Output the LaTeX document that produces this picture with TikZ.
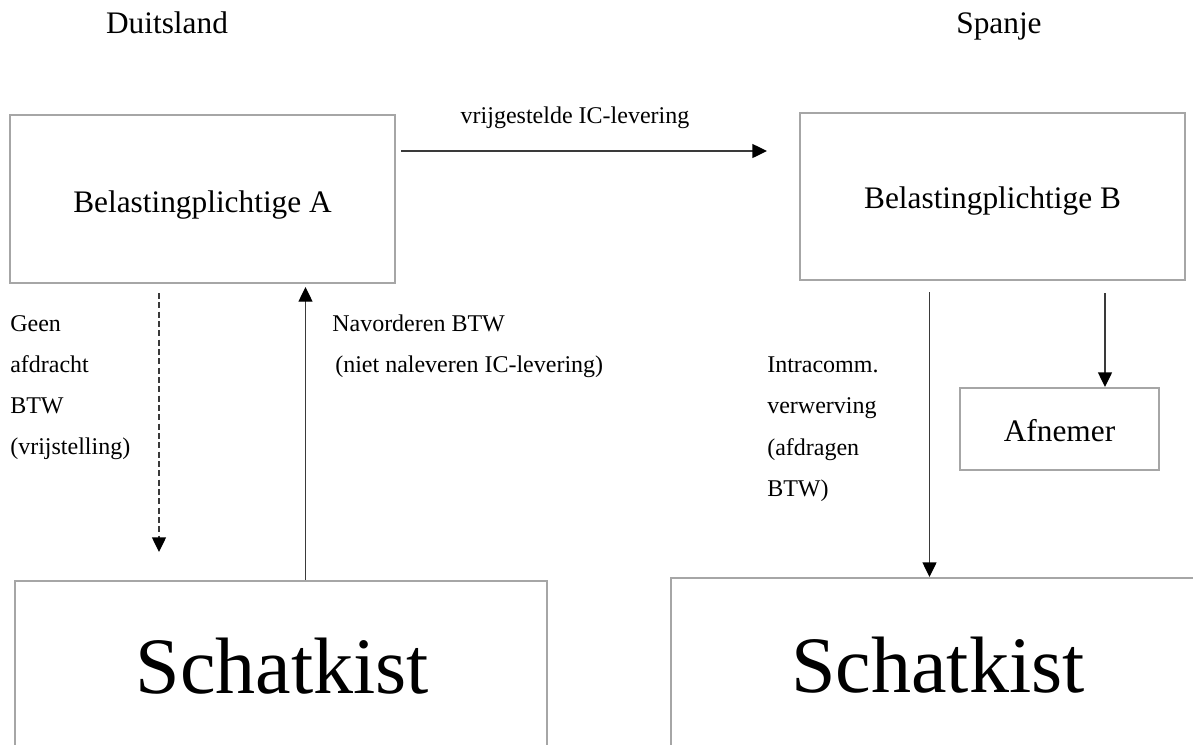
\documentclass[tikz,border=0pt]{standalone}
\usepackage{fontspec}
\setmainfont{Liberation Serif}
\usetikzlibrary{arrows.meta,calc}
\definecolor{boxgray}{HTML}{A6A6A6}
\definecolor{linegray}{HTML}{3A3A3A}
\begin{document}
\begin{tikzpicture}[x=0.75pt,y=-0.75pt,
  box/.style={draw=boxgray, line width=1.5pt, rectangle, inner sep=0pt},
  flow/.style={draw=linegray, line width=1pt,
    -{Triangle[length=11pt,width=10.5pt,color=black]}},
  dashedflow/.style={flow, dash pattern=on 4.5pt off 2.5pt},
  small/.style={font=\fontsize{18}{21}\selectfont, inner sep=0pt},
  medium/.style={font=\fontsize{23.5}{28}\selectfont, inner sep=0pt},
  big/.style={font=\fontsize{60}{72}\selectfont, inner sep=0pt}]
\useasboundingbox (0,0) rectangle (1193,744);
\clip (0,0) rectangle (1193,744);

% country headings
\node[medium, anchor=base] (de) at (167,33) {Duitsland};
\node[medium, anchor=base] (es) at (999,33) {Spanje};

% boxes
\node[box, minimum width=288.75pt, minimum height=126pt] (A) at (202.5,199) {};
\node[box, minimum width=288.75pt, minimum height=125.25pt] (B) at (992.5,196.5) {};
\node[box, minimum width=149.25pt, minimum height=61.5pt] (afn) at (1059.5,429) {};
\node[box, minimum width=399pt, minimum height=164.25pt] (SL) at (281,690.5) {};
\node[box, minimum width=400.5pt, minimum height=166.5pt] (SR) at (938,689) {};

% box texts
\node[medium, anchor=base] (Atext) at ($(A.center)+(0,13)$) {Belastingplichtige A};
\node[medium, anchor=base] (Btext) at ($(B.center)+(0,11.5)$) {Belastingplichtige B};
\node[medium, anchor=base] (afntext) at ($(afn.center)+(0,12)$) {Afnemer};
\node[big, anchor=base] (SLtext) at ($(SL.center)+(1.5,2.5)$) {Schatkist};
\node[big, anchor=base] (SRtext) at ($(SR.center)+(0,3)$) {Schatkist};

% connectors
\draw[flow] ($(A.north east)+(5,37)$) -- ($(B.north west)+(-32,39)$);
\draw[dashedflow] ($(A.south west)+(150,9)$) -- ($(SL.north west)+(145,-28)$);
\draw[flow] ($(SL.north)+(24.5,0)$) -- ($(A.south)+(103,3)$);
\draw[flow] ($(B.south)+(-63,11)$) -- ($(SR.north)+(-8.5,0)$);
\draw[flow] ($(B.south)+(112.5,12)$) -- ($(afn.north)+(45.5,0)$);

% connector labels
\node[small, anchor=base] (ic) at (575,123) {vrijgestelde IC-levering};

\node[small, anchor=base west] (g1) at (10,331) {Geen};
\node[small, anchor=base west] (g2) at (10,372) {afdracht};
\node[small, anchor=base west] (g3) at (10,413) {BTW};
\node[small, anchor=base west] (g4) at (10,454) {(vrijstelling)};

\node[small, anchor=base west] (n1) at (332,331) {Navorderen BTW};
\node[small, anchor=base west] (n2) at (335,372) {(niet naleveren IC-levering)};

\node[small, anchor=base west] (i1) at (767,372) {Intracomm.};
\node[small, anchor=base west] (i2) at (767,413) {verwerving};
\node[small, anchor=base west] (i3) at (767,455) {(afdragen};
\node[small, anchor=base west] (i4) at (767,496) {BTW)};
\end{tikzpicture}
\end{document}
